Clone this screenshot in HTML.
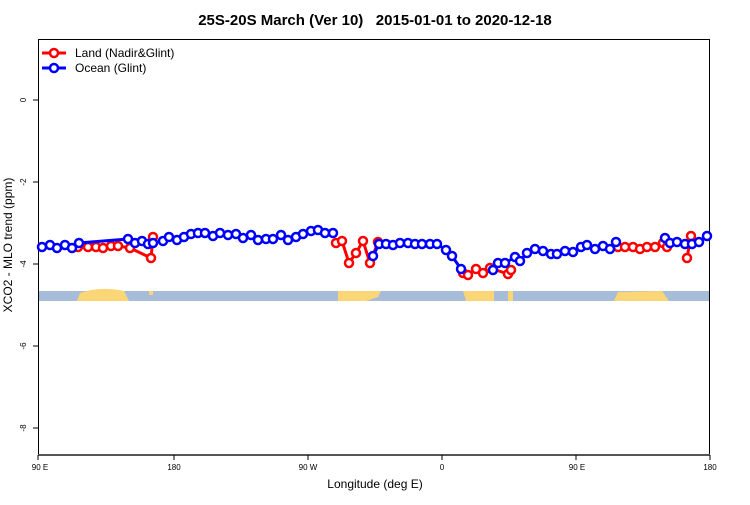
<!DOCTYPE html>
<html><head><style>body{margin:0;background:#fff}</style></head><body>
<svg width="750" height="500" xmlns="http://www.w3.org/2000/svg" font-family="Liberation Sans, sans-serif">
<text x="375" y="25" text-anchor="middle" font-size="15" font-weight="bold" xml:space="preserve">25S-20S March (Ver 10)   2015-01-01 to 2020-12-18</text>
<rect x="38" y="291" width="672" height="10" fill="#a7bcd9"/>
<g fill="#fbd677">
<path d="M77 301 L80 293 Q100 286 124 291 L129 301Z"/>
<rect x="149" y="291" width="4" height="4"/>
<path d="M338 291 L381 291 L378 297 L366 301 L338 301Z"/>
<path d="M463 291 L494 291 L494 301 L466 301Z"/>
<rect x="508" y="291" width="5" height="10"/>
<path d="M614 301 L618 292 L662 291 L669 301Z"/>
</g>
<rect x="38.5" y="39.5" width="671" height="415" fill="none" stroke="#000"/>
<line x1="38" y1="455" x2="710" y2="455" stroke="#555" stroke-width="2"/>
<g stroke="#000">
<line x1="38" y1="100" x2="33" y2="100"/><line x1="38" y1="182" x2="33" y2="182"/><line x1="38" y1="264" x2="33" y2="264"/><line x1="38" y1="346" x2="33" y2="346"/><line x1="38" y1="428" x2="33" y2="428"/>
<line x1="38" y1="455" x2="38" y2="460"/><line x1="174" y1="455" x2="174" y2="460"/><line x1="308" y1="455" x2="308" y2="460"/><line x1="442" y1="455" x2="442" y2="460"/><line x1="576" y1="455" x2="576" y2="460"/><line x1="710" y1="455" x2="710" y2="460"/>
</g>
<g font-size="8" text-anchor="middle">
<text transform="translate(26,100) rotate(-90)">0</text>
<text transform="translate(26,182) rotate(-90)">-2</text>
<text transform="translate(26,264) rotate(-90)">-4</text>
<text transform="translate(26,346) rotate(-90)">-6</text>
<text transform="translate(26,428) rotate(-90)">-8</text>
<text x="40" y="470">90 E</text><text x="174" y="470">180</text><text x="308" y="470">90 W</text><text x="442" y="470">0</text><text x="577" y="470">90 E</text><text x="710" y="470">180</text>
</g>
<text x="375" y="488" text-anchor="middle" font-size="12">Longitude (deg E)</text>
<text transform="translate(12,245) rotate(-90)" text-anchor="middle" font-size="12">XCO2 - MLO trend (ppm)</text>
<g fill="none" stroke="#f00" stroke-width="3">
<polyline points="78,247 88,247 96,247 103,248 111,246 118,246 130,248 151,258 153,237"/>
<polyline points="336,243 342,241 349,263 356,253 363,241 370,263 378,242"/>
<polyline points="463,273 468,275 476,269 483,273 490,268 508,274 511,270"/>
<polyline points="618,247 625,247 633,247 640,249 647,247 655,247 663,243 667,247"/>
<polyline points="687,258 691,236"/>
</g>
<g fill="#fff" stroke="#f00" stroke-width="2.5">
<circle cx="78" cy="247" r="4"/><circle cx="88" cy="247" r="4"/><circle cx="96" cy="247" r="4"/><circle cx="103" cy="248" r="4"/><circle cx="111" cy="246" r="4"/><circle cx="118" cy="246" r="4"/><circle cx="130" cy="248" r="4"/><circle cx="151" cy="258" r="4"/><circle cx="153" cy="237" r="4"/>
<circle cx="336" cy="243" r="4"/><circle cx="342" cy="241" r="4"/><circle cx="349" cy="263" r="4"/><circle cx="356" cy="253" r="4"/><circle cx="363" cy="241" r="4"/><circle cx="370" cy="263" r="4"/><circle cx="378" cy="242" r="4"/>
<circle cx="463" cy="273" r="4"/><circle cx="468" cy="275" r="4"/><circle cx="476" cy="269" r="4"/><circle cx="483" cy="273" r="4"/><circle cx="490" cy="268" r="4"/><circle cx="508" cy="274" r="4"/><circle cx="511" cy="270" r="4"/>
<circle cx="618" cy="247" r="4"/><circle cx="625" cy="247" r="4"/><circle cx="633" cy="247" r="4"/><circle cx="640" cy="249" r="4"/><circle cx="647" cy="247" r="4"/><circle cx="655" cy="247" r="4"/><circle cx="663" cy="243" r="4"/><circle cx="667" cy="247" r="4"/>
<circle cx="687" cy="258" r="4"/><circle cx="691" cy="236" r="4"/>
</g>
<g fill="none" stroke="#00f" stroke-width="3">
<polyline points="42,247 50,245 57,248 65,245 72,248 79,243 128,239 135,243 142,241 148,244 153,243 163,241 169,237 177,240 184,237 191,234 198,233 205,233 213,236 220,233 228,235 236,234 243,238 251,235 258,240 266,239 273,239 281,235 288,240 296,237 303,234 311,231 318,230 325,233 333,233"/>
<polyline points="373,256 379,244 386,244 393,245 400,243 408,243 415,244 422,244 430,244 437,244 446,250 452,256 461,269"/>
<polyline points="493,270 498,263 505,263 515,257 520,261 527,253 535,249 543,251 551,254 557,254 565,251 573,252 581,247 587,245 595,249 603,246 610,249 616,242"/>
<polyline points="665,238 670,243 677,242 685,244 692,244 699,242 707,236"/>
</g>
<g fill="#fff" stroke="#00f" stroke-width="2.5">
<circle cx="42" cy="247" r="4"/><circle cx="50" cy="245" r="4"/><circle cx="57" cy="248" r="4"/><circle cx="65" cy="245" r="4"/><circle cx="72" cy="248" r="4"/><circle cx="79" cy="243" r="4"/><circle cx="128" cy="239" r="4"/><circle cx="135" cy="243" r="4"/><circle cx="142" cy="241" r="4"/><circle cx="148" cy="244" r="4"/><circle cx="153" cy="243" r="4"/><circle cx="163" cy="241" r="4"/><circle cx="169" cy="237" r="4"/><circle cx="177" cy="240" r="4"/><circle cx="184" cy="237" r="4"/><circle cx="191" cy="234" r="4"/><circle cx="198" cy="233" r="4"/><circle cx="205" cy="233" r="4"/><circle cx="213" cy="236" r="4"/><circle cx="220" cy="233" r="4"/><circle cx="228" cy="235" r="4"/><circle cx="236" cy="234" r="4"/><circle cx="243" cy="238" r="4"/><circle cx="251" cy="235" r="4"/><circle cx="258" cy="240" r="4"/><circle cx="266" cy="239" r="4"/><circle cx="273" cy="239" r="4"/><circle cx="281" cy="235" r="4"/><circle cx="288" cy="240" r="4"/><circle cx="296" cy="237" r="4"/><circle cx="303" cy="234" r="4"/><circle cx="311" cy="231" r="4"/><circle cx="318" cy="230" r="4"/><circle cx="325" cy="233" r="4"/><circle cx="333" cy="233" r="4"/>
<circle cx="373" cy="256" r="4"/><circle cx="379" cy="244" r="4"/><circle cx="386" cy="244" r="4"/><circle cx="393" cy="245" r="4"/><circle cx="400" cy="243" r="4"/><circle cx="408" cy="243" r="4"/><circle cx="415" cy="244" r="4"/><circle cx="422" cy="244" r="4"/><circle cx="430" cy="244" r="4"/><circle cx="437" cy="244" r="4"/><circle cx="446" cy="250" r="4"/><circle cx="452" cy="256" r="4"/><circle cx="461" cy="269" r="4"/>
<circle cx="493" cy="270" r="4"/><circle cx="498" cy="263" r="4"/><circle cx="505" cy="263" r="4"/><circle cx="515" cy="257" r="4"/><circle cx="520" cy="261" r="4"/><circle cx="527" cy="253" r="4"/><circle cx="535" cy="249" r="4"/><circle cx="543" cy="251" r="4"/><circle cx="551" cy="254" r="4"/><circle cx="557" cy="254" r="4"/><circle cx="565" cy="251" r="4"/><circle cx="573" cy="252" r="4"/><circle cx="581" cy="247" r="4"/><circle cx="587" cy="245" r="4"/><circle cx="595" cy="249" r="4"/><circle cx="603" cy="246" r="4"/><circle cx="610" cy="249" r="4"/><circle cx="616" cy="242" r="4"/>
<circle cx="665" cy="238" r="4"/><circle cx="670" cy="243" r="4"/><circle cx="677" cy="242" r="4"/><circle cx="685" cy="244" r="4"/><circle cx="692" cy="244" r="4"/><circle cx="699" cy="242" r="4"/><circle cx="707" cy="236" r="4"/>
</g>
<g stroke-width="3">
<line x1="42" y1="53" x2="66" y2="53" stroke="#f00"/><circle cx="54" cy="53" r="4" fill="#fff" stroke="#f00" stroke-width="2.5"/>
<line x1="42" y1="68" x2="66" y2="68" stroke="#00f"/><circle cx="54" cy="68" r="4" fill="#fff" stroke="#00f" stroke-width="2.5"/>
</g>
<text x="75" y="57" font-size="12">Land (Nadir&amp;Glint)</text>
<text x="75" y="72" font-size="12">Ocean (Glint)</text>
</svg>
</body></html>
